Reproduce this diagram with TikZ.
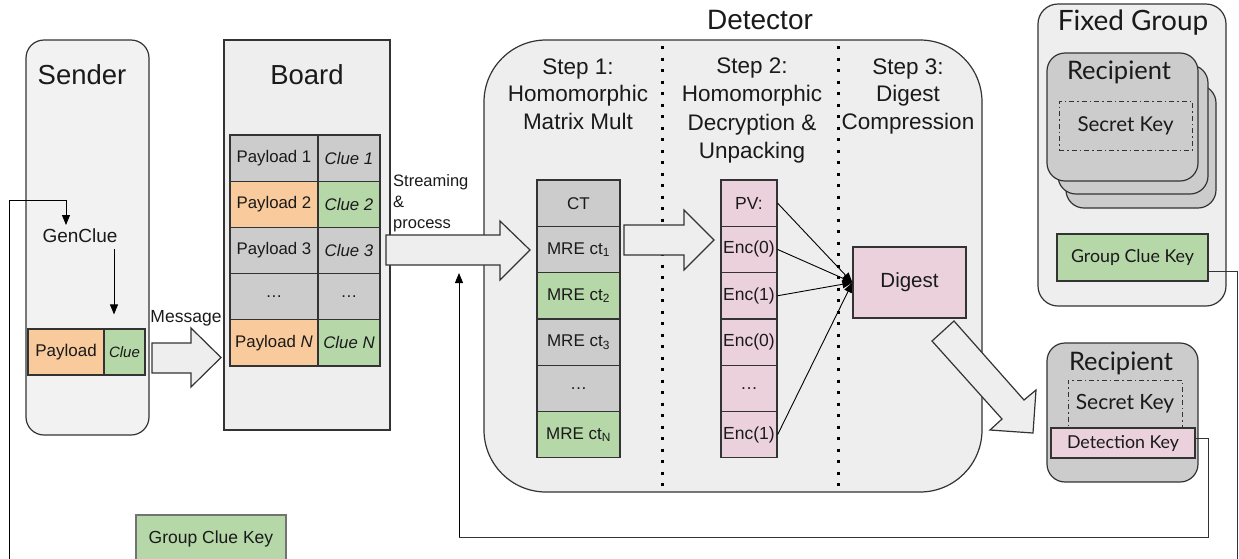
\documentclass[tikz,border=0pt]{standalone}
\usepackage{fontspec}
\setmainfont{Liberation Sans}
\newfontfamily\latofont{Lato}
\usetikzlibrary{arrows.meta,calc}
\definecolor{linecol}{HTML}{333333}
\definecolor{txtcol}{HTML}{1A1A1A}
\definecolor{senderfill}{HTML}{F2F2F2}
\definecolor{panelfill}{HTML}{EEEEEE}
\definecolor{orangefill}{HTML}{F9CB9C}
\definecolor{greenfill}{HTML}{B6D7A8}
\definecolor{grayfill}{HTML}{CCCCCC}
\definecolor{pinkfill}{HTML}{EAD1DC}
\newcommand\fsz[1]{\fontsize{#1}{#1}\selectfont}
\begin{document}
\begin{tikzpicture}[x=1pt,y=-1pt,
  panel/.style={draw=linecol, line width=1.2pt, inner sep=0pt, text=txtcol},
  cellbox/.style={draw=linecol, line width=1.2pt, inner sep=0pt, text=txtcol},
  paycell/.style={cellbox, minimum width=88pt, minimum height=46.2pt, font=\fsz{16.8}},
  cluecell/.style={cellbox, minimum width=62pt, minimum height=46.2pt, font=\fsz{16.8}\itshape},
  mrecell/.style={cellbox, minimum width=83pt, minimum height=46.3pt, font=\fsz{17}},
  enccell/.style={cellbox, fill=pinkfill, minimum width=56pt, minimum height=46.3pt, font=\fsz{17.5}},
  lbl/.style={inner sep=0pt, text=txtcol},
  blockarrow/.style={draw=linecol, fill=panelfill, line width=1.2pt, line join=miter},
  thinarrow/.style={draw=black, line width=0.9pt, -{Triangle[length=10pt,width=8pt]}},
  plainline/.style={draw=linecol, line width=1pt},
  dotline/.style={draw=black, line width=3pt, dash pattern=on 3pt off 8.5pt},
  dashdot/.style={draw=linecol, line width=1pt, dash pattern=on 5pt off 3pt on 1.5pt off 3pt}
]
\useasboundingbox (0,0) rectangle (1239,558);

% ---------------- Sender ----------------
\node[panel, fill=senderfill, rounded corners=18pt, minimum width=123pt, minimum height=395pt] (sender) at (87.5,237.5) {};
\node[lbl, font=\fsz{27.5}] (sendertitle) at (82,75) {Sender};
\node[lbl, font=\fsz{19}] (genclue) at (80,236) {GenClue};
\node[cellbox, fill=orangefill, minimum width=76pt, minimum height=46pt, font=\fsz{17}] (spay) at (66,352) {Payload};
\node[cellbox, fill=greenfill, minimum width=41pt, minimum height=46pt, font=\fsz{15}\itshape] (sclue) at (124.5,352) {Clue};

\coordinate (lstart) at (9,570);
\coordinate (gcin) at (66,200);
\draw[thinarrow] (lstart) |- (gcin) -- (66,225);
\coordinate (gcout) at (114,249);
\draw[thinarrow, shorten >=14pt] (gcout) -- (gcout |- sclue.north);

% Message arrow
\draw[blockarrow] (152,343) -- (191,343) -- (191,328) -- (221,357.5) -- (191,387) -- (191,373) -- (152,373) -- cycle;
\node[lbl, font=\fsz{17.5}] (msg) at (186,318) {Message};

% ---------------- Board ----------------
\node[panel, fill=panelfill, minimum width=166pt, minimum height=390pt] (board) at (307,235) {};
\node[lbl, font=\fsz{27.5}] (boardtitle) at (307,75) {Board};
\node[paycell, fill=grayfill]   (p1) at (274,158.1) {Payload 1};
\node[cluecell, fill=grayfill]  (c1) at (349,158.1) {Clue 1};
\node[paycell, fill=orangefill] (p2) at (274,204.3) {Payload 2};
\node[cluecell, fill=greenfill] (c2) at (349,204.3) {Clue 2};
\node[paycell, fill=grayfill]   (p3) at (274,250.5) {Payload 3};
\node[cluecell, fill=grayfill]  (c3) at (349,250.5) {Clue 3};
\node[paycell, fill=grayfill]   (p4) at (274,296.7) {…};
\node[cluecell, fill=grayfill, font=\fsz{16.8}]  (c4) at (349,296.7) {…};
\node[paycell, fill=orangefill] (p5) at (274,342.9) {Payload \textit{N}};
\node[cluecell, fill=greenfill] (c5) at (349,342.9) {Clue N};

% ---------------- Detector ----------------
\node[lbl, font=\fsz{28}] (dettitle) at (760,20) {Detector};
\node[panel, fill=panelfill, rounded corners=62pt, minimum width=498pt, minimum height=452pt] (detector) at (733,266) {};
\draw[dotline] (662,46) -- (662,490);
\draw[dotline] (838.5,46) -- (838.5,490);

\node[lbl, font=\fontsize{22.5}{27.5}\selectfont, align=center] (step1) at (578,94) {Step 1:\\Homomorphic\\Matrix Mult};
\node[lbl, font=\fontsize{22.5}{28.3}\selectfont, align=center] (step2) at (752,110.5) {Step 2:\\Homomorphic\\Decryption \&\\Unpacking};
\node[lbl, font=\fontsize{22.5}{27.5}\selectfont, align=center] (step3) at (908,96) {Step 3:\\Digest\\Compression};

% Streaming arrow
\draw[blockarrow] (386,235) -- (500,235) -- (500,221) -- (530,250) -- (500,280) -- (500,265) -- (386,265) -- cycle;
\node[lbl, font=\fontsize{16.5}{21}\selectfont, align=left, anchor=west] (streamlbl) at (393,203.5) {Streaming\\\&\\process};

% MRE column
\node[mrecell, fill=grayfill]  (m1) at (578.5,203.15) {CT};
\node[mrecell, fill=grayfill]  (m2) at (578.5,249.45) {MRE ct\textsubscript{1}};
\node[mrecell, fill=greenfill] (m3) at (578.5,295.75) {MRE ct\textsubscript{2}};
\node[mrecell, fill=grayfill]  (m4) at (578.5,342.05) {MRE ct\textsubscript{3}};
\node[mrecell, fill=grayfill]  (m5) at (578.5,388.35) {…};
\node[mrecell, fill=greenfill] (m6) at (578.5,434.65) {MRE ct\textsubscript{N}};

% arrow step1 -> step2
\draw[blockarrow] (624,225) -- (684,225) -- (684,210) -- (714,240) -- (684,270) -- (684,255) -- (624,255) -- cycle;

% Enc column
\node[enccell] (e1) at (749,203.15) {PV:};
\node[enccell] (e2) at (749,249.45) {Enc(0)};
\node[enccell] (e3) at (749,295.75) {Enc(1)};
\node[enccell] (e4) at (749,342.05) {Enc(0)};
\node[enccell] (e5) at (749,388.35) {…};
\node[enccell] (e6) at (749,434.65) {Enc(1)};

% Digest
\node[cellbox, fill=pinkfill, minimum width=113pt, minimum height=71pt, font=\fsz{20.5}] (digest) at (909.5,282.5) {Digest};
\draw[thinarrow] (e1.east) -- (digest.west);
\draw[thinarrow] (e2.east) -- (digest.west);
\draw[thinarrow] (e3.east) -- (digest.west);
\draw[thinarrow] (e6.east) -- (digest.west);

% Digest -> recipient arrow
\draw[blockarrow] (954,321) -- (1024,400) -- (1036,390) -- (1033,433) -- (990,430) -- (1002,419) -- (932,341) -- cycle;

% ---------------- Fixed Group ----------------
\node[panel, fill=panelfill, rounded corners=20pt, minimum width=188pt, minimum height=302pt] (fixed) at (1132,155) {};
\node[lbl, font=\latofont\fsz{28}] (fixedtitle) at (1133,23) {Fixed Group};
\node[panel, fill=grayfill, rounded corners=18pt, minimum width=150pt, minimum height=123pt] (r3) at (1141,146.5) {};
\node[panel, fill=grayfill, rounded corners=18pt, minimum width=150pt, minimum height=129pt] (r2) at (1133,129.5) {};
\node[panel, fill=grayfill, rounded corners=18pt, minimum width=151pt, minimum height=128pt] (r1) at (1122.5,117) {};
\node[lbl, font=\latofont\fsz{25.5}] (r1title) at (1119,72) {Recipient};
\node[dashdot, inner sep=0pt, minimum width=133pt, minimum height=49pt, font=\latofont\fsz{20.5}, text=txtcol] (sk1) at (1125.5,125.5) {Secret Key};
\node[cellbox, fill=greenfill, minimum width=151pt, minimum height=47pt, font=\latofont\fsz{17.8}] (gck) at (1132.5,257.5) {Group Clue Key};
\coordinate (gckend) at (1237,570);
\draw[plainline] ([yshift=-13.5pt]gck.east) -| (gckend);

% ---------------- Recipient (bottom) ----------------
\node[panel, fill=grayfill, rounded corners=18pt, minimum width=151pt, minimum height=139pt] (rec) at (1122.5,412.5) {};
\node[lbl, font=\latofont\fsz{25.5}] (rectitle) at (1121,363) {Recipient};
\node[dashdot, inner sep=0pt, minimum width=114pt, minimum height=48pt, font=\latofont\fsz{21}, text=txtcol] (sk2) at (1125,404) {Secret Key};
\node[cellbox, fill=pinkfill, minimum width=144pt, minimum height=30pt, font=\latofont\fsz{17.8}] (detkey) at (1123,443) {Detection Key};
\coordinate (fbcorner) at (459,537);
\coordinate (fbend) at (459,273);
\draw[plainline] ([yshift=5pt]detkey.east) -- ++(13,0) |- (fbcorner);
\draw[thinarrow] (fbcorner) -- (fbend);

% ---------------- bottom group clue key ----------------
\node[draw=black!55, line width=1.2pt, fill=greenfill, inner sep=0pt, minimum width=150pt, minimum height=48pt, font=\fsz{17.5}, text=txtcol] (gck2) at (211,539) {Group Clue Key};
\end{tikzpicture}
\end{document}
